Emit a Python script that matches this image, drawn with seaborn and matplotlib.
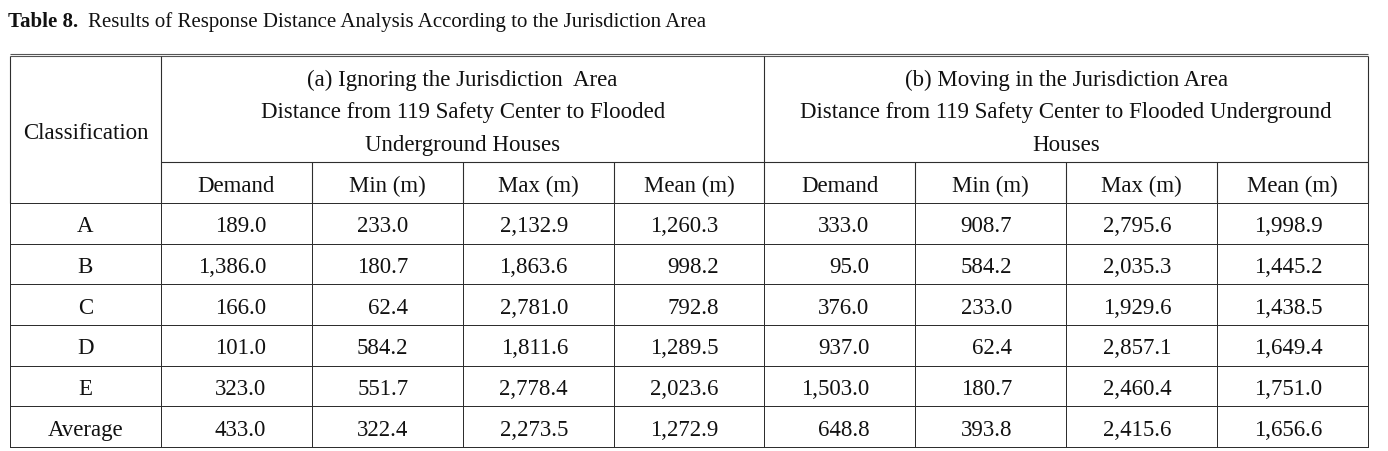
import numpy as np
import pandas as pd
import matplotlib
matplotlib.use("Agg")
import matplotlib.pyplot as plt
import seaborn as sns
from matplotlib.colors import ListedColormap

sns.set_theme(style="white")
plt.rcParams["font.family"] = ["Liberation Serif", "DejaVu Serif"]

# ------------------------------------------------------
# Table data
# ------------------------------------------------------

classes = ["A", "B", "C", "D", "E", "Average"]

a_demand = [189.0, 1386.0, 166.0, 101.0, 323.0, 433.0]
a_min = [233.0, 180.7, 62.4, 584.2, 551.7, 322.4]
a_max = [2132.9, 1863.6, 2781.0, 1811.6, 2778.4, 2273.5]
a_mean = [1260.3, 998.2, 792.8, 1289.5, 2023.6, 1272.9]

b_demand = [333.0, 95.0, 376.0, 937.0, 1503.0, 648.8]
b_min = [908.7, 584.2, 233.0, 62.4, 180.7, 393.8]
b_max = [2795.6, 2035.3, 1929.6, 2857.1, 2460.4, 2415.6]
b_mean = [1998.9, 1445.2, 1438.5, 1649.4, 1751.0, 1656.6]

sub_headers = ["Demand", "Min (m)", "Max (m)", "Mean (m)"]
head_a = ["(a) Ignoring the Jurisdiction  Area",
          "Distance from 119 Safety Center to Flooded",
          "Underground Houses"]
head_b = ["(b) Moving in the Jurisdiction Area",
          "Distance from 119 Safety Center to Flooded Underground",
          "Houses"]
title_bold = "Table 8."
title_rest = "Results of Response Distance Analysis According to the Jurisdiction Area"

value_cols = [a_demand, a_min, a_max, a_mean, b_demand, b_min, b_max, b_mean]

# ------------------------------------------------------
# Layout helpers (pixel -> data units)
# ------------------------------------------------------

W, H = 1388, 451
left, right = 10, 1368
cw = (right - left) / 9
top_data, bottom = 203, 447
rh = (bottom - top_data) / len(classes)


def X(px):
    return (px - left) / cw


def Y(px):
    return (px - top_data) / rh


line_col = "#2e2e2e"
ink = "#111111"
fs = 16.5
lw = 0.8

fig = plt.figure(figsize=(W / 100, H / 100), dpi=100)
ax = fig.add_axes([0, 0, 1, 1])

# body grid drawn as a blank heatmap
grid = pd.DataFrame(np.zeros((len(classes), 9)))
sns.heatmap(grid, ax=ax, cmap=ListedColormap(["white"]), cbar=False,
            linewidths=0.5, linecolor=line_col,
            xticklabels=False, yticklabels=False)
ax.set_xlim(X(0), X(W))
ax.set_ylim(Y(H), Y(0))
ax.set_axis_off()

# header rules
ax.hlines([Y(54), Y(56.5)], 0, 9, color="#555555", lw=lw)
ax.vlines([0, 1, 5, 9], Y(56.5), 0, color=line_col, lw=lw)
ax.hlines(Y(162.5), 1, 9, color=line_col, lw=lw)
ax.vlines([2, 3, 4, 6, 7, 8], Y(162.5), 0, color=line_col, lw=lw)

# header text
txt = dict(fontsize=fs, color=ink, ha="center", va="baseline")
ax.text(0.5, Y(139), "Classification", **txt)
for k, y in enumerate([86, 118.5, 151]):
    ax.text(3, Y(y), head_a[k], **txt)
    ax.text(7, Y(y), head_b[k], **txt)
for j, lab in enumerate(sub_headers):
    ax.text(1.5 + j, Y(192), lab, **txt)
    ax.text(5.5 + j, Y(192), lab, **txt)

# body text
base = 29.5 / rh
for i, c in enumerate(classes):
    ax.text(0.5, i + base, c, **txt)

renderer = fig.canvas.get_renderer()
for j, vals in enumerate(value_cols):
    labels = [f"{v:,.1f}" for v in vals]
    widths = []
    for s in labels:
        t = ax.text(0, 0, s, fontsize=fs)
        widths.append(t.get_window_extent(renderer).width)
        t.remove()
    xr = j + 1.5 + max(widths) / 2 / cw - 0.03
    for i, s in enumerate(labels):
        ax.text(xr, i + base, s, fontsize=fs, color=ink,
                ha="right", va="baseline")

# title
t1 = ax.text(X(8), Y(27), title_bold, fontsize=15, fontweight="bold",
             color=ink, ha="left", va="baseline")
ax.annotate(title_rest, xy=(1, 0), xycoords=t1, xytext=(7, 0),
            textcoords="offset points", fontsize=15, color=ink,
            ha="left", va="bottom")

fig.savefig("out.png", dpi=100, facecolor="white")
